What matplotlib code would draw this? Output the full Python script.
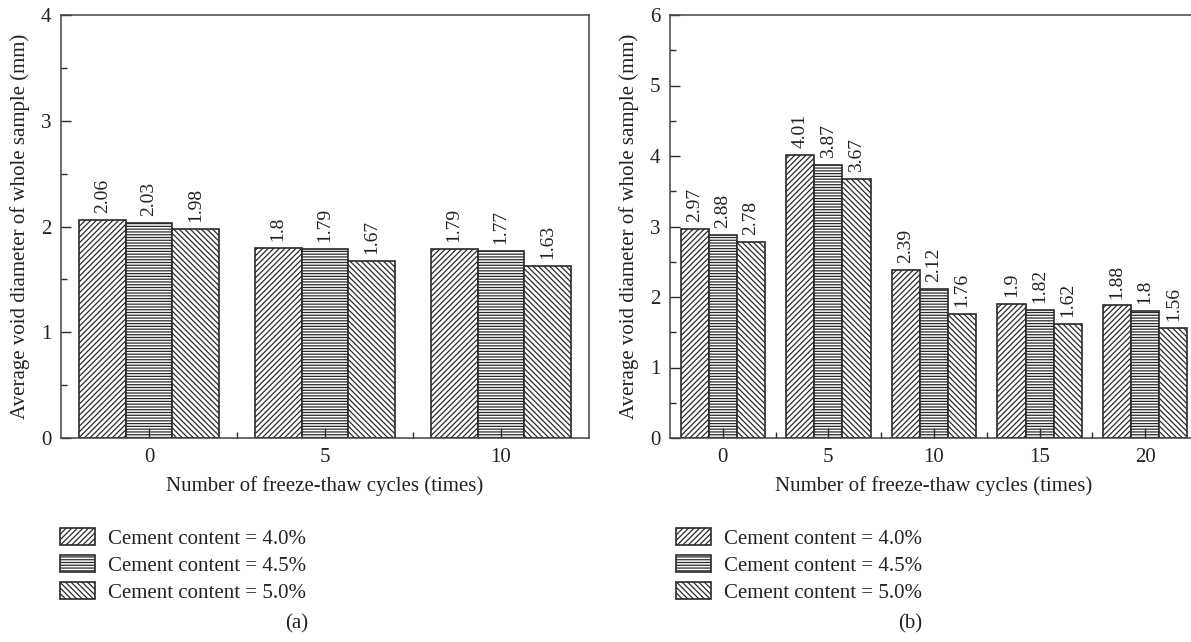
import matplotlib
matplotlib.use('Agg')
import matplotlib.pyplot as plt
import numpy as np
from matplotlib.ticker import MultipleLocator

plt.rcParams['font.family'] = ['Liberation Serif', 'DejaVu Serif']
plt.rcParams['hatch.linewidth'] = 0.9
plt.rcParams['hatch.color'] = '#222222'

# data
series_labels = ['Cement content = 4.0%', 'Cement content = 4.5%', 'Cement content = 5.0%']
hatches = ['//////', '------', '\\\\\\\\\\\\']

cycles_a = ['0', '5', '10']
a_40 = [2.06, 1.80, 1.79]
a_45 = [2.03, 1.79, 1.77]
a_50 = [1.98, 1.67, 1.63]

cycles_b = ['0', '5', '10', '15', '20']
b_40 = [2.97, 4.01, 2.39, 1.90, 1.88]
b_45 = [2.88, 3.87, 2.12, 1.82, 1.80]
b_50 = [2.78, 3.67, 1.76, 1.62, 1.56]

W, H = 1191, 642
fig = plt.figure(figsize=(W / 100, H / 100), dpi=100)

ax_a = fig.add_axes([61 / W, 1 - 438 / H, (589 - 61) / W, (438 - 15) / H])
ax_b = fig.add_axes([670 / W, 1 - 438 / H, (1198 - 670) / W, (438 - 15) / H])

edge = '#2a2a2a'
fs = 15


def draw(ax, cats, groups, ymax, xlim):
    x = np.arange(len(cats))
    bw = 0.266
    for i, (vals, hatch) in enumerate(zip(groups, hatches)):
        pos = x + (i - 1) * bw
        ax.bar(pos, vals, width=bw, facecolor='white', edgecolor=edge,
               linewidth=1.2, hatch=hatch, label=series_labels[i])
        # value labels, rotated above each bar
        for px, v in zip(pos, vals):
            ax.annotate(f'{v:g}', xy=(px, v), xytext=(0, 5), textcoords='offset points',
                        rotation=90, ha='center', va='bottom', fontsize=14, color='#222222')
    ax.set_xlim(*xlim)
    ax.set_ylim(0, ymax)
    ax.set_xticks(x)
    ax.set_xticklabels(cats)
    ax.set_xticks(x[:-1] + 0.5, minor=True)
    ax.yaxis.set_major_locator(MultipleLocator(1))
    ax.yaxis.set_minor_locator(MultipleLocator(0.5))
    ax.tick_params(which='major', direction='in', length=7, width=1.0, labelsize=fs,
                   color=edge, labelcolor='#222222', pad=7)
    ax.tick_params(which='minor', direction='in', length=4, width=1.0, color=edge)
    ax.tick_params(axis='x', which='both', top=False)
    ax.tick_params(axis='y', which='both', right=False)
    for s in ax.spines.values():
        s.set_color('#444444')
        s.set_linewidth(1.1)
    ax.set_xlabel('Number of freeze-thaw cycles (times)', fontsize=fs, color='#222222', labelpad=7)
    ax.set_ylabel('Average void diameter of whole sample (mm)', fontsize=fs, color='#222222', labelpad=8)


draw(ax_a, cycles_a, [a_40, a_45, a_50], 4, (-0.5, 2.5))
draw(ax_b, cycles_b, [b_40, b_45, b_50], 6, (-0.5, 4.5))

for ax, lx in [(ax_a, 60), (ax_b, 676)]:
    ax.legend(loc='upper left', bbox_to_anchor=(lx / W, 1 - 528 / H),
              bbox_transform=fig.transFigure, frameon=False, fontsize=fs,
              borderpad=0, borderaxespad=0, handlelength=1.7, handleheight=0.9,
              labelspacing=0.3, handletextpad=0.6, labelcolor='#222222')

fig.text(297 / W, 1 - 624 / H, '(a)', ha='center', va='center', fontsize=fs, color='#222222')
fig.text(910 / W, 1 - 624 / H, '(b)', ha='center', va='center', fontsize=fs, color='#222222')

fig.savefig('out.png', dpi=100)
